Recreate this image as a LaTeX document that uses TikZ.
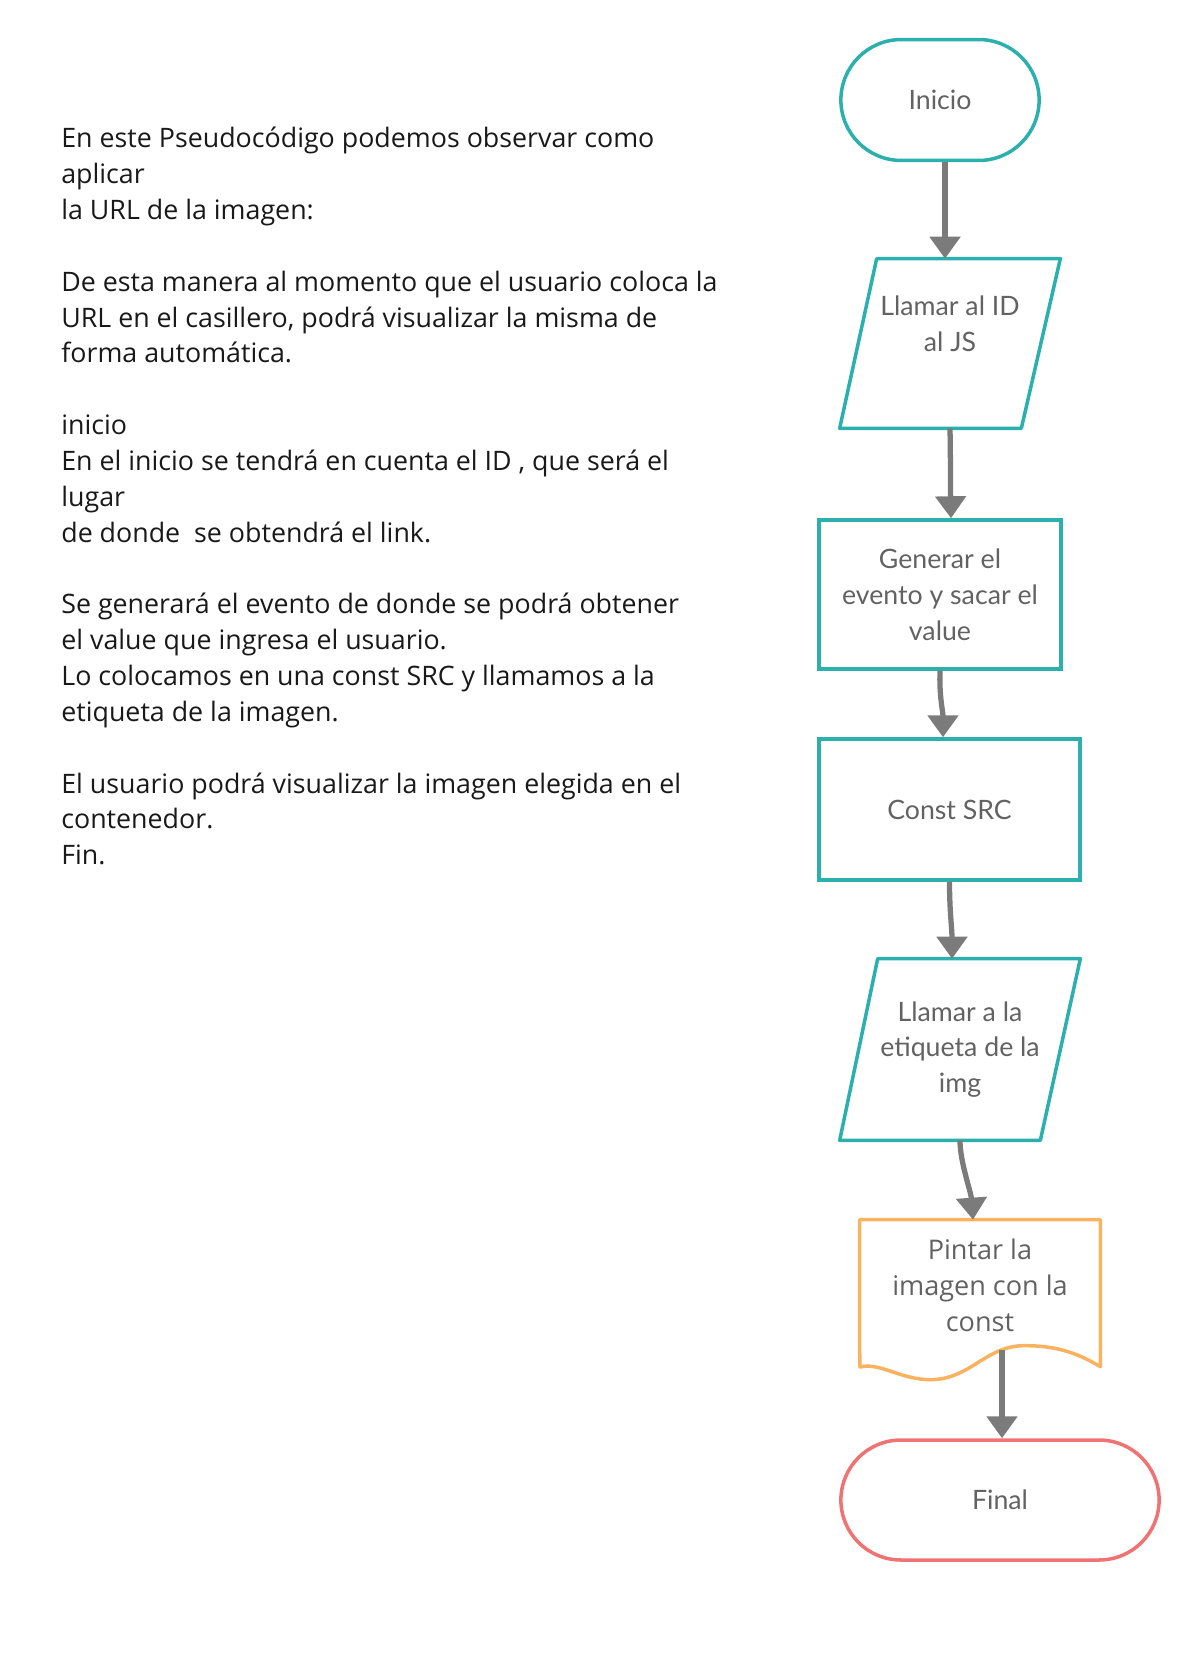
\documentclass[tikz,border=0pt]{standalone}
\usepackage{fontspec}
\setmainfont{Open Sans}
\newfontfamily\latofont{Lato}
\usepackage{tikz}
\usetikzlibrary{shapes.misc, arrows.meta}
\definecolor{flowteal}{RGB}{43,176,173}
\definecolor{floworange}{RGB}{248,178,96}
\definecolor{flowred}{RGB}{240,115,115}
\definecolor{arrowgray}{RGB}{123,123,123}
\definecolor{labelgray}{RGB}{98,98,98}
\tikzstyle{arrow} = [line width=3pt,draw=arrowgray,-{Triangle[width=0.6cm,length=0.44cm]}]
\tikzstyle{term} = [rounded rectangle,draw,line width=2pt,text=labelgray,font=\latofont\fontsize{15.2}{20.4}\selectfont]
\tikzstyle{iobox} = [rectangle,align=center,text=labelgray,font=\latofont\fontsize{15.2}{20.4}\selectfont]
\tikzstyle{ioline} = [draw=flowteal,line width=2pt,line join=round]
\tikzstyle{procbox} = [rectangle,draw=flowteal,line width=2pt,align=center,text=labelgray,font=\latofont\fontsize{15.2}{20.4}\selectfont]

\begin{document}
\begin{tikzpicture}[x=0.02cm,y=-0.02cm]
	\useasboundingbox (0,0) rectangle (1194,1673);
	
	% Pseudocodigo a la izquierda:
	\node [anchor=north west,inner sep=0,align=left,font=\fontsize{15.25}{20.4}\selectfont,text=black!90] (pseudo) at (61,127)
	{En este Pseudocódigo podemos observar como\\
		aplicar\\
		la URL de la imagen:\\[20.4pt]
		De esta manera al momento que el usuario coloca la\\
		URL en el casillero, podrá visualizar la misma de\\
		forma automática.\\[20.4pt]
		inicio\\
		En el inicio se tendrá en cuenta el ID , que será el\\
		lugar\\
		de donde\ \ se obtendrá el link.\\[20.4pt]
		Se generará el evento de donde se podrá obtener\\
		el value que ingresa el usuario.\\
		Lo colocamos en una const SRC y llamamos a la\\
		etiqueta de la imagen.\\[20.4pt]
		El usuario podrá visualizar la imagen elegida en el\\
		contenedor.\\
		Fin.};
	
	% Diagrama de flujo:
	\node [term,draw=flowteal,minimum width=4.2cm,minimum height=2.42cm] (inicio) at (940,100) {Inicio};
	
	\node [iobox,minimum width=4.4cm,minimum height=3.38cm,text depth=23pt] (llamarid) at (950,343.5) {Llamar al ID\\al JS};
	\draw [ioline] ([xshift=0.74cm]llamarid.north west) -- (llamarid.north east)
		-- ([xshift=-0.78cm]llamarid.south east) -- (llamarid.south west) -- cycle;
	
	\node [procbox,minimum width=4.84cm,minimum height=2.98cm] (generar) at (940,594.5) {Generar el\\evento y sacar el\\value};
	\node [procbox,minimum width=5.22cm,minimum height=2.82cm] (constsrc) at (949.5,809.5) {Const SRC};
	
	\node [iobox,minimum width=4.8cm,minimum height=3.62cm] (llamarimg) at (960,1049.5) {Llamar a la\\etiqueta de la\\img};
	\draw [ioline] ([xshift=0.76cm]llamarimg.north west) -- (llamarimg.north east)
		-- ([xshift=-0.8cm]llamarimg.south east) -- (llamarimg.south west) -- cycle;
	
	% Documento (con borde ondulado):
	\node [minimum width=4.8cm,minimum height=2.6cm,align=center,text=labelgray,font=\fontsize{15.4}{20.4}\selectfont] (pintar) at (980,1285) {Pintar la\\imagen con la\\const};
	\draw [floworange,line width=2pt,line join=round] (pintar.south west) |- (pintar.north east) -- ++(0,147)
		.. controls ++(-25,-15) and ++(30,0) .. ++(-76,-21)
		.. controls ++(-39,0) and ++(40,0) .. ++(-94,34)
		.. controls ++(-30,0) and ++(20,-5) .. (860,1367) -- cycle;
	\coordinate (pintarout) at ([xshift=0.44cm]pintar.south);
	
	\node [term,draw=flowred,minimum width=6.6cm,minimum height=2.4cm] (final) at (1000,1500) {Final};
	
	% Flechas:
	\draw [arrow] ([xshift=0.1cm]inicio.south) -- ([xshift=0.1cm]inicio.south |- llamarid.north);
	\draw [arrow] (llamarid.south) to[out=-89,in=91] ([xshift=0.22cm]generar.north);
	\draw [arrow] (generar.south) to[out=-92,in=90] ([xshift=0.06cm]generar.south |- constsrc.north);
	\draw [arrow] (constsrc.south) to[out=-90,in=90] ([xshift=-0.16cm]llamarimg.north);
	\draw [arrow] (llamarimg.south) .. controls ++(0,22) and ++(-2,-28) .. ([xshift=-0.14cm]pintar.north);
	\draw [arrow] (pintarout) -- (pintarout |- final.north);
	
\end{tikzpicture}
\end{document}
